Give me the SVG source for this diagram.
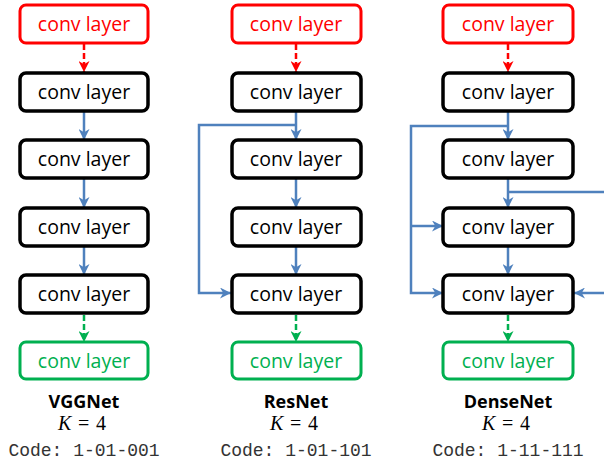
<svg xmlns="http://www.w3.org/2000/svg" width="604" height="461" viewBox="0 0 604 461">
<style>
.box{fill:#fff;stroke:#000;stroke-width:3.5}
.red{fill:#fff;stroke:#ff0000;stroke-width:3}
.green{fill:#fff;stroke:#00b050;stroke-width:3}
.lbl{font-family:"Open Sans","Noto Sans",sans-serif;font-size:19.5px;text-anchor:middle}
.title{font-family:"Open Sans","Noto Sans",sans-serif;font-size:18px;font-weight:bold;text-anchor:middle;fill:#000}
.k{font-family:"Liberation Serif",serif;font-size:20px;text-anchor:middle;fill:#000}
.code{font-family:"Liberation Mono",monospace;font-size:18px;text-anchor:middle;fill:#333}
.blue{fill:none;stroke:#4f81bd;stroke-width:2.5}
.rdash{fill:none;stroke:#ff0000;stroke-width:2.5;stroke-dasharray:6 3}
.gdash{fill:none;stroke:#00b050;stroke-width:2.5;stroke-dasharray:6 3}
</style>
<defs>
<marker id="ab" viewBox="0 0 10 10" refX="10" refY="5" markerWidth="4.4" markerHeight="4.4" orient="auto" markerUnits="strokeWidth"><path d="M0,0 L10,5 L0,10 L3,5 z" fill="#4f81bd"/></marker>
<marker id="ar" viewBox="0 0 10 10" refX="10" refY="5" markerWidth="4.4" markerHeight="4.4" orient="auto" markerUnits="strokeWidth"><path d="M0,0 L10,5 L0,10 L3,5 z" fill="#ff0000"/></marker>
<marker id="ag" viewBox="0 0 10 10" refX="10" refY="5" markerWidth="4.4" markerHeight="4.4" orient="auto" markerUnits="strokeWidth"><path d="M0,0 L10,5 L0,10 L3,5 z" fill="#00b050"/></marker>
</defs>

<g id="connectors">
<!-- VGGNet -->
<path class="rdash" d="M84,44 V72" marker-end="url(#ar)"/>
<path class="blue" d="M84,112 V140" marker-end="url(#ab)"/>
<path class="blue" d="M84,179 V208" marker-end="url(#ab)"/>
<path class="blue" d="M84,247 V275" marker-end="url(#ab)"/>
<path class="gdash" d="M84,315 V342" marker-end="url(#ag)"/>
<!-- ResNet -->
<path class="rdash" d="M296,44 V72" marker-end="url(#ar)"/>
<path class="blue" d="M296,112 V140" marker-end="url(#ab)"/>
<path class="blue" d="M296,179 V208" marker-end="url(#ab)"/>
<path class="blue" d="M296,247 V275" marker-end="url(#ab)"/>
<path class="blue" d="M296,125 H199 V293 H231" marker-end="url(#ab)"/>
<path class="gdash" d="M296,315 V342" marker-end="url(#ag)"/>
<!-- DenseNet -->
<path class="rdash" d="M508,44 V72" marker-end="url(#ar)"/>
<path class="blue" d="M508,112 V140" marker-end="url(#ab)"/>
<path class="blue" d="M508,179 V208" marker-end="url(#ab)"/>
<path class="blue" d="M508,247 V275" marker-end="url(#ab)"/>
<path class="blue" d="M508,126 H411 V293 H443" marker-end="url(#ab)"/>
<path class="blue" d="M411,226 H443" marker-end="url(#ab)"/>
<path class="blue" d="M508,192 H604"/>
<path class="blue" d="M604,293 H574" marker-end="url(#ab)"/>
<path class="gdash" d="M508,315 V342" marker-end="url(#ag)"/>
</g>

<!-- VGGNet column -->
<g id="vgg-1"><rect class="red" x="20" y="5" width="128" height="38" rx="6"/><text class="lbl" x="84" y="31" fill="#ff0000">conv layer</text></g>
<g id="vgg-2"><rect class="box" x="20" y="73" width="128" height="38" rx="6"/><text class="lbl" x="84" y="99">conv layer</text></g>
<g id="vgg-3"><rect class="box" x="20" y="140" width="128" height="38" rx="6"/><text class="lbl" x="84" y="166">conv layer</text></g>
<g id="vgg-4"><rect class="box" x="20" y="208" width="128" height="38" rx="6"/><text class="lbl" x="84" y="234">conv layer</text></g>
<g id="vgg-5"><rect class="box" x="20" y="275" width="128" height="38" rx="6"/><text class="lbl" x="84" y="301">conv layer</text></g>
<g id="vgg-6"><rect class="green" x="20" y="342" width="128" height="37" rx="6"/><text class="lbl" x="84" y="368" fill="#00b050">conv layer</text></g>
<g id="vgg-label"><text class="title" x="84" y="408">VGGNet</text><text class="k" x="82" y="430" textLength="48"><tspan font-style="italic">K</tspan> = 4</text><text class="code" x="84" y="456">Code: 1-01-001</text></g>

<!-- ResNet column -->
<g id="res-1"><rect class="red" x="232" y="5" width="129" height="38" rx="6"/><text class="lbl" x="296" y="31" fill="#ff0000">conv layer</text></g>
<g id="res-2"><rect class="box" x="232" y="73" width="129" height="38" rx="6"/><text class="lbl" x="296" y="99">conv layer</text></g>
<g id="res-3"><rect class="box" x="232" y="140" width="129" height="38" rx="6"/><text class="lbl" x="296" y="166">conv layer</text></g>
<g id="res-4"><rect class="box" x="232" y="208" width="129" height="38" rx="6"/><text class="lbl" x="296" y="234">conv layer</text></g>
<g id="res-5"><rect class="box" x="232" y="275" width="129" height="38" rx="6"/><text class="lbl" x="296" y="301">conv layer</text></g>
<g id="res-6"><rect class="green" x="232" y="342" width="129" height="37" rx="6"/><text class="lbl" x="296" y="368" fill="#00b050">conv layer</text></g>
<g id="res-label"><text class="title" x="296" y="408">ResNet</text><text class="k" x="294" y="430" textLength="48"><tspan font-style="italic">K</tspan> = 4</text><text class="code" x="296" y="456">Code: 1-01-101</text></g>

<!-- DenseNet column -->
<g id="dense-1"><rect class="red" x="443" y="5" width="130" height="38" rx="6"/><text class="lbl" x="508" y="31" fill="#ff0000">conv layer</text></g>
<g id="dense-2"><rect class="box" x="443" y="73" width="130" height="38" rx="6"/><text class="lbl" x="508" y="99">conv layer</text></g>
<g id="dense-3"><rect class="box" x="443" y="140" width="130" height="38" rx="6"/><text class="lbl" x="508" y="166">conv layer</text></g>
<g id="dense-4"><rect class="box" x="443" y="208" width="130" height="38" rx="6"/><text class="lbl" x="508" y="234">conv layer</text></g>
<g id="dense-5"><rect class="box" x="443" y="275" width="130" height="38" rx="6"/><text class="lbl" x="508" y="301">conv layer</text></g>
<g id="dense-6"><rect class="green" x="443" y="342" width="130" height="37" rx="6"/><text class="lbl" x="508" y="368" fill="#00b050">conv layer</text></g>
<g id="dense-label"><text class="title" x="508" y="408">DenseNet</text><text class="k" x="506" y="430" textLength="48"><tspan font-style="italic">K</tspan> = 4</text><text class="code" x="508" y="456">Code: 1-11-111</text></g>
</svg>
